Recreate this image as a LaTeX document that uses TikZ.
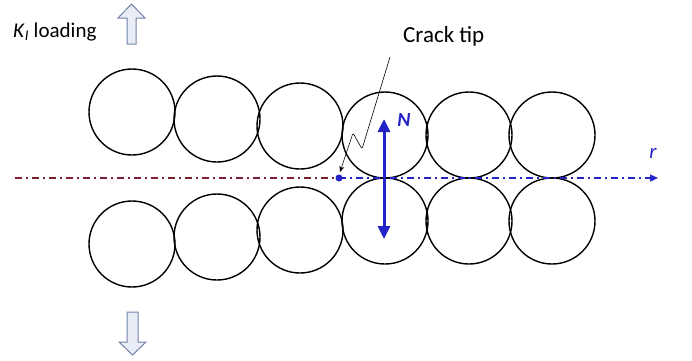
\documentclass[tikz,border=0pt]{standalone}
\usepackage{fontspec}
\setmainfont{Carlito}
\usetikzlibrary{arrows.meta, positioning, calc}

\definecolor{tipblue}{RGB}{35,35,200}
\definecolor{crackred}{RGB}{125,30,50}
\definecolor{loadfill}{RGB}{233,237,245}
\definecolor{loaddraw}{RGB}{115,130,170}

\begin{document}
\begin{tikzpicture}[x=1pt, y=-1pt,
    grain/.style={circle, draw, line width=1.4pt, minimum size=86pt, inner sep=0pt},
    axisline/.style={line width=1.2pt, dash pattern=on 7pt off 4pt on 2pt off 4pt},
    loadarrow/.style={draw=loaddraw, fill=loadfill, line width=1pt, line join=miter}
]
    \useasboundingbox (0,0) rectangle (692,360);

    % two rows of grains, mirrored about the crack plane
    \foreach \i/\x/\y in {1/132/112, 2/217/119, 3/300/126, 4/385/135, 5/469/135, 6/552/135} {
        \node[grain] (t\i) at (\x,\y) {};
        \node[grain] (b\i) at (\x,356-\y) {};
    }

    % crack plane
    \coordinate (left) at (15,178);
    \coordinate (tip) at (339,178);
    \coordinate (right) at (658,178);
    \draw[axisline, crackred] (left) -- (tip);
    \draw[axisline, tipblue, -{Triangle[length=8pt, width=7pt]}] (tip) -- (right);
    \fill[tipblue] (tip) circle (3.5pt);
    \node[tipblue, font=\itshape\fontsize{21}{24}\selectfont] (rlabel) at (653,153) {r};

    % normal opening force
    \coordinate (Ntop) at (384,119);
    \coordinate (Nbot) at (384,239);
    \draw[tipblue, line width=3pt, {Triangle[length=13pt, width=12pt]}-{Triangle[length=13pt, width=12pt]}] (Nbot) -- (Ntop);
    \node[tipblue, font=\bfseries\itshape\fontsize{20}{24}\selectfont] (Nlabel) at (404,120) {N};

    % crack tip label
    \node[font=\fontsize{23}{27}\selectfont, anchor=base west, inner sep=0pt] (cracklabel) at (403,42) {Crack tip};
    \coordinate (lead) at (390,57);
    \coordinate (tiparrow) at (340,172);
    \draw[line width=0.6pt, rounded corners=2pt, -{Stealth[length=6pt, width=5pt]}] (lead) -- (362,149) -- (353,133) -- (tiparrow);

    % loading
    \node[font=\fontsize{21}{25}\selectfont, anchor=base west, inner sep=0pt] (kload) at (13,37) {\textit{K}\textsubscript{\textit{I}} loading};
    \draw[loadarrow] (131.5,4) -- (145,18) -- (136,18) -- (136,44) -- (127,44) -- (127,18) -- (118,18) -- cycle;
    \draw[loadarrow] (127,312) -- (138,312) -- (138,342) -- (146,342) -- (132.5,355) -- (119,342) -- (127,342) -- cycle;
\end{tikzpicture}
\end{document}
